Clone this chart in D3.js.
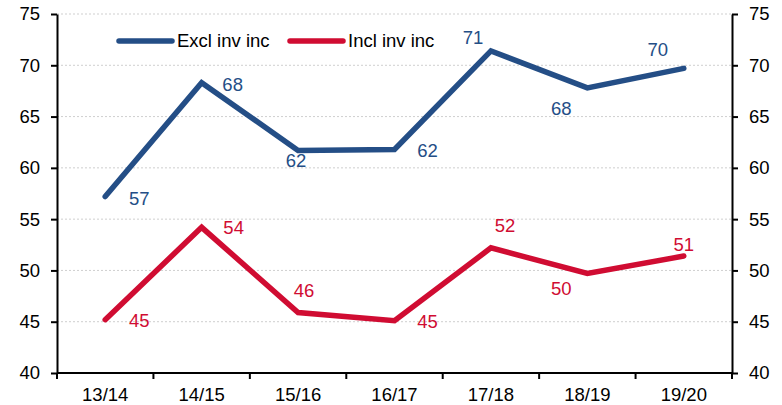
<!DOCTYPE html>
<html>
<head>
<meta charset="utf-8">
<script src="https://cdn.jsdelivr.net/npm/d3@7"></script>
<style>
  body { margin: 0; background: #fff; }
  text { font-family: "Liberation Sans", Arial, sans-serif; }
</style>
</head>
<body>
<div id="chart"></div>
<script>
const years = ["13/14", "14/15", "15/16", "16/17", "17/18", "18/19", "19/20"];
const exclInvInc = [57.2, 68.3, 61.7, 61.8, 71.4, 67.8, 69.7];
const inclInvInc = [45.2, 54.2, 45.9, 45.1, 52.2, 49.7, 51.4];
const yTicks = [40, 45, 50, 55, 60, 65, 70, 75];

// label offsets from the point, per series
const exclOffsets = [[34, 2], [31, 2], [-2, 10], [33, 1], [-18, -13], [-26, 21], [-26, -19]];
const inclOffsets = [[34, 1], [32, 0], [6, -22], [33, 1], [14, -22], [-26, 15], [0, -12]];

const COLORS = { excl: "#244e86", incl: "#d00c32" };
const FS = 18.5;

const W = 782, H = 405;
const m = { left: 57, right: 50, top: 14, bottom: 32 };

const svg = d3.select("#chart").append("svg").attr("width", W).attr("height", H);

const x = d3.scaleBand().domain(years).range([m.left, W - m.right]);
const y = d3.scaleLinear().domain([40, 75]).range([H - m.bottom, m.top]);
const cx = (d) => x(d) + x.bandwidth() / 2;

// gridlines
svg.append("g")
  .selectAll("line")
  .data(yTicks.slice(1))
  .join("line")
  .attr("x1", m.left).attr("x2", W - m.right)
  .attr("y1", (d) => y(d)).attr("y2", (d) => y(d))
  .attr("stroke", "#cfcfcf").attr("stroke-dasharray", "2,2").attr("stroke-width", 1);

const styleAxis = (g) => {
  g.selectAll(".domain").attr("stroke", "#000").attr("stroke-width", 2);
  g.selectAll(".tick line").attr("stroke", "#000").attr("stroke-width", 2);
  g.selectAll(".tick text").attr("font-size", FS).attr("fill", "#000")
    .attr("font-family", '"Liberation Sans", Arial, sans-serif');
};

svg.append("g")
  .attr("transform", `translate(${m.left},0)`)
  .call(d3.axisLeft(y).tickValues(yTicks).tickSize(6).tickPadding(11).tickSizeOuter(0))
  .call(styleAxis);

svg.append("g")
  .attr("transform", `translate(${W - m.right},0)`)
  .call(d3.axisRight(y).tickValues(yTicks).tickSize(6).tickPadding(11).tickSizeOuter(0))
  .call(styleAxis);

// x axis with ticks at band edges
const xAxis = svg.append("g").attr("transform", `translate(0,${H - m.bottom})`);
xAxis.append("line")
  .attr("x1", m.left).attr("x2", W - m.right)
  .attr("stroke", "#000").attr("stroke-width", 2);
xAxis.selectAll(".xt")
  .data(years.concat(["end"]))
  .join("line")
  .attr("class", "xt")
  .attr("x1", (d, i) => m.left + i * x.bandwidth())
  .attr("x2", (d, i) => m.left + i * x.bandwidth())
  .attr("y1", 0).attr("y2", 6)
  .attr("stroke", "#000").attr("stroke-width", 2);
xAxis.selectAll(".xl")
  .data(years)
  .join("text")
  .attr("class", "xl")
  .attr("x", cx)
  .attr("y", 28)
  .attr("text-anchor", "middle")
  .attr("font-size", FS)
  .text((d) => d);

const line = d3.line().x((d, i) => cx(years[i])).y((d) => y(d));

const drawSeries = (vals, color, offsets) => {
  svg.append("path")
    .datum(vals)
    .attr("d", line)
    .attr("fill", "none")
    .attr("stroke", color)
    .attr("stroke-width", 5.5)
    .attr("stroke-linejoin", "miter")
    .attr("stroke-linecap", "round");
  svg.append("g")
    .selectAll("text")
    .data(vals)
    .join("text")
    .attr("x", (d, i) => cx(years[i]) + offsets[i][0])
    .attr("y", (d, i) => y(d) + offsets[i][1])
    .attr("dy", "0.35em")
    .attr("text-anchor", "middle")
    .attr("font-size", FS)
    .attr("fill", color)
    .text((d) => Math.round(d));
};

drawSeries(exclInvInc, COLORS.excl, exclOffsets);
drawSeries(inclInvInc, COLORS.incl, inclOffsets);

// legend
const legend = [
  { name: "Excl inv inc", color: COLORS.excl, x: 119 },
  { name: "Incl inv inc", color: COLORS.incl, x: 290 },
];
const lg = svg.append("g").selectAll("g").data(legend).join("g")
  .attr("transform", (d) => `translate(${d.x},41)`);
lg.append("line")
  .attr("x1", 0).attr("x2", 53)
  .attr("stroke", (d) => d.color).attr("stroke-width", 5.5).attr("stroke-linecap", "round");
lg.append("text")
  .attr("x", 58).attr("dy", "0.35em")
  .attr("font-size", FS)
  .text((d) => d.name);
</script>
</body>
</html>
